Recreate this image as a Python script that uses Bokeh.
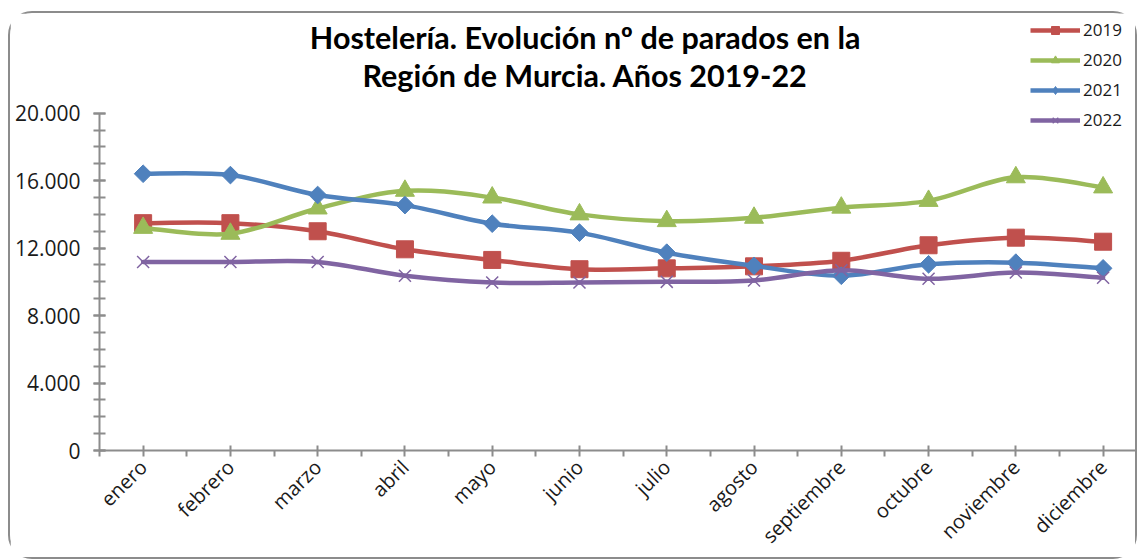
import math
from bokeh.plotting import figure
from bokeh.models import Range1d, FixedTicker, Label, Legend, LegendItem, ColumnDataSource
from bokeh.embed import file_html
from bokeh.resources import INLINE

# ---- data ----
months = ["enero", "febrero", "marzo", "abril", "mayo", "junio", "julio",
          "agosto", "septiembre", "octubre", "noviembre", "diciembre"]
y2019 = [13480, 13480, 13000, 11930, 11300, 10750, 10800, 10920, 11250, 12170, 12620, 12380]
y2020 = [13200, 12850, 14350, 15400, 15000, 14000, 13600, 13800, 14400, 14800, 16200, 15600]
y2021 = [16410, 16330, 15150, 14550, 13450, 12920, 11730, 10950, 10360, 11040, 11140, 10800]
y2022 = [11180, 11180, 11180, 10360, 9960, 9960, 10000, 10080, 10690, 10180, 10550, 10240]
series_names = ["2019", "2020", "2021", "2022"]
y_ticks = [0, 4000, 8000, 12000, 16000, 20000]
y_tick_labels = ["0", "4.000", "8.000", "12.000", "16.000", "20.000"]
title_lines = ["Hostelería. Evolución nº de parados en la", "Región de Murcia. Años 2019-22"]

colors = ["#C0504D", "#9BBB59", "#4F81BD", "#8064A2"]
TICK_FONT = "Open Sans"
TITLE_FONT = "Lato"

Y_AXIS_MAX = 20000
Y_VIEW_TOP = 25912  # frame extends above the axis to hold title and legend


def bezier_source(ys):
    n = len(ys)
    xs = list(range(n))
    d = {k: [] for k in ["x0", "y0", "x1", "y1", "cx0", "cy0", "cx1", "cy1"]}
    for i in range(n - 1):
        a = i - 1 if i > 0 else i
        b = i + 2 if i + 2 < n else i + 1
        d["x0"].append(xs[i]); d["y0"].append(ys[i])
        d["x1"].append(xs[i + 1]); d["y1"].append(ys[i + 1])
        d["cx0"].append(xs[i] + (xs[i + 1] - xs[a]) / 6)
        d["cy0"].append(ys[i] + (ys[i + 1] - ys[a]) / 6)
        d["cx1"].append(xs[i + 1] - (xs[b] - xs[i]) / 6)
        d["cy1"].append(ys[i + 1] - (ys[b] - ys[i]) / 6)
    return ColumnDataSource(d)


p = figure(width=1129, height=548,
           x_range=Range1d(-0.5, 11.417), y_range=Range1d(0, Y_VIEW_TOP),
           output_backend="svg", toolbar_location=None,
           min_border_left=89, min_border_right=0, min_border_top=0, min_border_bottom=111)
p.styles = {"border": "2px solid #8c8c8c", "border-radius": "24px",
            "margin-left": "8px", "margin-top": "11px"}
p.outline_line_color = None
p.xgrid.visible = False
p.ygrid.visible = False
p.background_fill_color = "white"
p.border_fill_color = "white"

# axes
for ax in (p.xaxis[0], p.yaxis[0]):
    ax.axis_line_color = "#8c8c8c"
    ax.axis_line_width = 2
    ax.major_tick_line_color = "#8c8c8c"
    ax.major_tick_line_width = 2
    ax.minor_tick_line_color = "#8c8c8c"
    ax.minor_tick_line_width = 2
    ax.major_label_text_font = TICK_FONT
    ax.major_label_text_color = "#1a1a1a"

p.yaxis.bounds = (0, Y_AXIS_MAX)
p.yaxis.ticker = FixedTicker(ticks=y_ticks, minor_ticks=list(range(0, Y_AXIS_MAX + 1, 1000)))
p.yaxis.major_label_overrides = {t: l for t, l in zip(y_ticks, y_tick_labels)}
p.yaxis.major_tick_in = 6
p.yaxis.major_tick_out = 6
p.yaxis.minor_tick_in = 6
p.yaxis.minor_tick_out = 6
p.yaxis.major_label_standoff = 13
p.yaxis.major_label_text_font_size = "21px"

p.xaxis.ticker = FixedTicker(ticks=list(range(len(months))),
                             minor_ticks=[i - 0.5 for i in range(len(months) + 1)])
p.xaxis.major_label_overrides = {i: m for i, m in enumerate(months)}
p.xaxis.major_label_orientation = math.pi / 4
p.xaxis.major_tick_in = 5
p.xaxis.major_tick_out = 6
p.xaxis.minor_tick_in = 0
p.xaxis.minor_tick_out = 6
p.xaxis.major_label_standoff = 7
p.xaxis.major_label_text_font_size = "20px"

# (plot marker, size, angle, line width, legend marker)
markers = [("square", 17, 0.0, 1, "square"), ("triangle", 19, 0.0, 1, "triangle"),
           ("square", 12.5, math.pi / 4, 1, "diamond"), ("x", 17, 0.0, 1.5, "x")]
items = []
xs = list(range(len(months)))
for name, ys, color, (mk, sz, ang, lw, lmk) in zip(series_names, [y2019, y2020, y2021, y2022],
                                                   colors, markers):
    p.bezier(x0="x0", y0="y0", x1="x1", y1="y1", cx0="cx0", cy0="cy0", cx1="cx1", cy1="cy1",
             source=bezier_source(ys), line_color=color, line_width=4.5, line_cap="round")
    p.scatter(x=xs, y=ys, marker=mk, size=sz, angle=ang, fill_color=color,
              line_color=color, line_width=lw)
    # legend-only glyphs (placed outside the visible x range, so they are clipped away)
    proxy_line = p.line(x=[-10, -10], y=[ys[0], ys[0]], line_color=color, line_width=4.5)
    proxy_mk = p.scatter(x=[-10], y=[ys[0]], marker=lmk, size=10, fill_color=color,
                         line_color=color, line_width=lw)
    items.append(LegendItem(label=name, renderers=[proxy_line, proxy_mk]))

legend = Legend(items=items, location=(926, 314), glyph_width=50, glyph_height=20,
                label_height=20, spacing=7, padding=5, margin=0, label_standoff=3,
                label_text_font=TICK_FONT, label_text_font_size="17px", label_text_color="#1a1a1a",
                border_line_alpha=0, background_fill_alpha=0)
p.add_layout(legend)

for txt, yv in zip(title_lines, [24489, 22236]):
    p.add_layout(Label(x=5.065, y=yv, text=txt, text_align="center", text_baseline="alphabetic",
                       text_font=TITLE_FONT, text_font_style="bold", text_font_size="30.5px",
                       text_color="#000000"))

open("out.html", "w").write(file_html(p, INLINE))
